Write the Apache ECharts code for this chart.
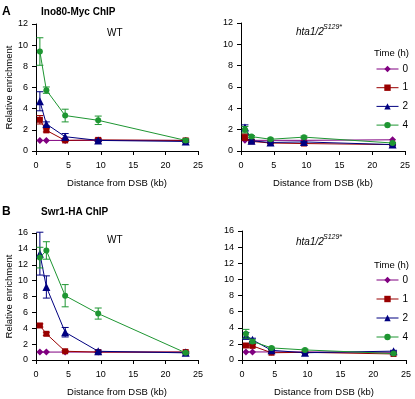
<!DOCTYPE html>
<html>
<head>
<meta charset="utf-8">
<script src="https://cdn.jsdelivr.net/npm/echarts@6/dist/echarts.min.js"></script>
<style>
  html, body { margin: 0; padding: 0; background: #fff; }
  #main { width: 415px; height: 399px; }
</style>
</head>
<body>
<div id="main"></div>
<script>
// distance from DSB (kb)
var dist = [0.6, 1.6, 4.5, 9.6, 23.1];
var times = ['0', '1', '2', '4'];

// A: Ino80-Myc, WT
var aWT0 = [1.0, 1.0, 1.0, 1.0, 1.0];
var aWT1 = [2.95, 1.95, 1.0, 1.05, 1.0];
var aWT2 = [4.7, 2.55, 1.35, 1.0, 0.9];
var aWT4 = [9.4, 5.75, 3.35, 2.9, 1.0];
var aWT1err = [0.4, 0.15, 0.1, 0.15, 0.1];
var aWT2err = [0.9, 0.2, 0.3, 0.1, 0.1];
var aWT4err = [1.3, 0.3, 0.6, 0.4, 0.15];

// A: Ino80-Myc, hta1/2 S129*
var aMut0 = [1.0, 1.0, 1.0, 1.0, 1.05];
var aMut1 = [1.3, 0.9, 0.75, 0.7, 0.6];
var aMut2 = [2.2, 0.95, 0.8, 0.85, 0.6];
var aMut4 = [2.0, 1.35, 1.1, 1.3, 0.75];
var aMut1err = [0.3, 0.1, 0.05, 0.05, 0.05];
var aMut2err = [0.25, 0.1, 0.05, 0.05, 0.05];
var aMut4err = [0.3, 0.1, 0.1, 0.1, 0.05];

// B: Swr1-HA, WT
var bWT0 = [1.0, 1.0, 1.0, 1.0, 1.0];
var bWT1 = [4.35, 3.3, 1.1, 1.0, 1.0];
var bWT2 = [13.4, 9.2, 3.5, 1.1, 0.9];
var bWT4 = [12.9, 13.8, 8.1, 5.85, 0.9];
var bWT1err = [0.2, 0.2, 0.1, 0.1, 0.1];
var bWT2err = [2.7, 1.4, 0.6, 0.15, 0.1];
var bWT4err = [1.3, 1.1, 1.4, 0.7, 0.1];

// B: Swr1-HA, hta1/2 S129*
var bMut0 = [1.0, 1.0, 1.0, 1.0, 0.95];
var bMut1 = [1.8, 1.75, 0.9, 0.95, 0.75];
var bMut2 = [3.0, 2.5, 1.2, 0.9, 1.1];
var bMut4 = [3.25, 2.3, 1.5, 1.25, 0.8];
var bMut1err = [0.2, 0.15, 0.1, 0.05, 0.05];
var bMut2err = [0.4, 0.2, 0.1, 0.05, 0.1];
var bMut4err = [0.55, 0.2, 0.1, 0.1, 0.05];

var colors = ['#800080', '#990000', '#000080', '#1e9632'];
var symbols = ['diamond', 'rect', 'triangle', 'circle'];
var symSizes = [7, 6, 8, 6];
var font = '"Liberation Sans", Arial, sans-serif';

var panels = [
  { vals: [aWT0, aWT1, aWT2, aWT4], errs: [null, aWT1err, aWT2err, aWT4err] },
  { vals: [aMut0, aMut1, aMut2, aMut4], errs: [null, aMut1err, aMut2err, aMut4err] },
  { vals: [bWT0, bWT1, bWT2, bWT4], errs: [null, bWT1err, bWT2err, bWT4err] },
  { vals: [bMut0, bMut1, bMut2, bMut4], errs: [null, bMut1err, bMut2err, bMut4err] }
];

var grids = [
  { left: 36, right: 217, top: 24, bottom: 248 },
  { left: 241, right: 10, top: 23, bottom: 248 },
  { left: 36, right: 217, top: 233, bottom: 39 },
  { left: 242, right: 9, top: 231, bottom: 39 }
];

var axisLine = { lineStyle: { color: '#000', width: 1 } };
var xAxes = [], yAxes = [], series = [];
grids.forEach(function (g, i) {
  xAxes.push({
    gridIndex: i, type: 'value', min: 0, max: 25, interval: 5,
    name: 'Distance from DSB (kb)', nameLocation: 'middle', nameGap: 27,
    nameTextStyle: { fontFamily: font, fontSize: 9.5, color: '#000' },
    axisLine: axisLine, axisTick: { length: 4, lineStyle: { color: '#000' } },
    axisLabel: { fontFamily: font, fontSize: 9, color: '#000', margin: 10 },
    splitLine: { show: false }
  });
  yAxes.push({
    gridIndex: i, type: 'value', min: 0, max: i < 2 ? 12 : 16, interval: 2,
    name: (i % 2 === 0) ? 'Relative enrichment' : '', nameLocation: 'middle', nameGap: 21,
    nameTextStyle: { fontFamily: font, fontSize: 9.5, color: '#000' },
    axisLine: { show: true, lineStyle: { color: '#000', width: 1 } },
    axisTick: { show: true, length: 4, lineStyle: { color: '#000' } },
    axisLabel: { fontFamily: font, fontSize: 9, color: '#000', margin: 8 },
    splitLine: { show: false }
  });
});

panels.forEach(function (p, pi) {
  times.forEach(function (t, ti) {
    series.push({
      name: t, type: 'line', xAxisIndex: pi, yAxisIndex: pi,
      data: dist.map(function (d, k) { return [d, p.vals[ti][k]]; }),
      symbol: symbols[ti], symbolSize: symSizes[ti],
      itemStyle: { color: colors[ti] },
      lineStyle: { color: colors[ti], width: 1 },
      z: 2 + ti, animation: false
    });
    if (p.errs[ti]) {
      series.push({
        name: 'err' + pi + '_' + ti, type: 'custom', xAxisIndex: pi, yAxisIndex: pi,
        data: dist.map(function (d, k) { return [d, p.vals[ti][k], p.errs[ti][k]]; }),
        encode: { x: 0, y: 1 },
        z: 2 + ti, animation: false, silent: true,
        renderItem: function (params, api) {
          var x = api.value(0), y = api.value(1), e = api.value(2);
          var top = api.coord([x, y + e]), bot = api.coord([x, y - e]);
          var w = 3.5, st = { stroke: colors[ti], lineWidth: 1 };
          return {
            type: 'group',
            children: [
              { type: 'line', shape: { x1: top[0], y1: top[1], x2: bot[0], y2: bot[1] }, style: st },
              { type: 'line', shape: { x1: top[0] - w, y1: top[1], x2: top[0] + w, y2: top[1] }, style: st },
              { type: 'line', shape: { x1: bot[0] - w, y1: bot[1], x2: bot[0] + w, y2: bot[1] }, style: st }
            ]
          };
        }
      });
    }
  });
});

var txt = function (x, y, s, size, weight, style) {
  return { type: 'text', left: x, top: y, silent: true,
    style: { text: s, fontFamily: font, fontSize: size, fontWeight: weight || 'normal',
             fontStyle: style || 'normal', fill: '#000' } };
};

var legendBase = {
  data: times, orient: 'vertical', left: 376, padding: 0,
  itemWidth: 22, itemHeight: 8, selectedMode: false,
  lineStyle: { width: 1 },
  textStyle: { fontFamily: font, fontSize: 10, color: '#000', padding: [0, 0, 0, -1] }
};

var chart = echarts.init(document.getElementById('main'), null, { renderer: 'canvas' });
chart.setOption({
  backgroundColor: '#fff',
  animation: false,
  grid: grids,
  xAxis: xAxes,
  yAxis: yAxes,
  legend: [
    Object.assign({}, legendBase, { top: 64, itemGap: 8.7 }),
    Object.assign({}, legendBase, { top: 275, itemGap: 9 })
  ],
  graphic: [
    txt(2, 6, 'A', 12, 'bold'),
    txt(41, 7, 'Ino80-Myc ChIP', 10, 'bold'),
    txt(107, 28, 'WT', 10),
    txt(296, 27, 'hta1/2', 10, 'normal', 'italic'),
    txt(323, 24, 'S129*', 7, 'normal', 'italic'),
    txt(374, 48, 'Time (h)', 9.5),
    txt(2, 206, 'B', 12, 'bold'),
    txt(41, 207, 'Swr1-HA ChIP', 10, 'bold'),
    txt(107, 235, 'WT', 10),
    txt(296, 237, 'hta1/2', 10, 'normal', 'italic'),
    txt(323, 234, 'S129*', 7, 'normal', 'italic'),
    txt(374, 260, 'Time (h)', 9.5)
  ],
  series: series
});
</script>
</body>
</html>
